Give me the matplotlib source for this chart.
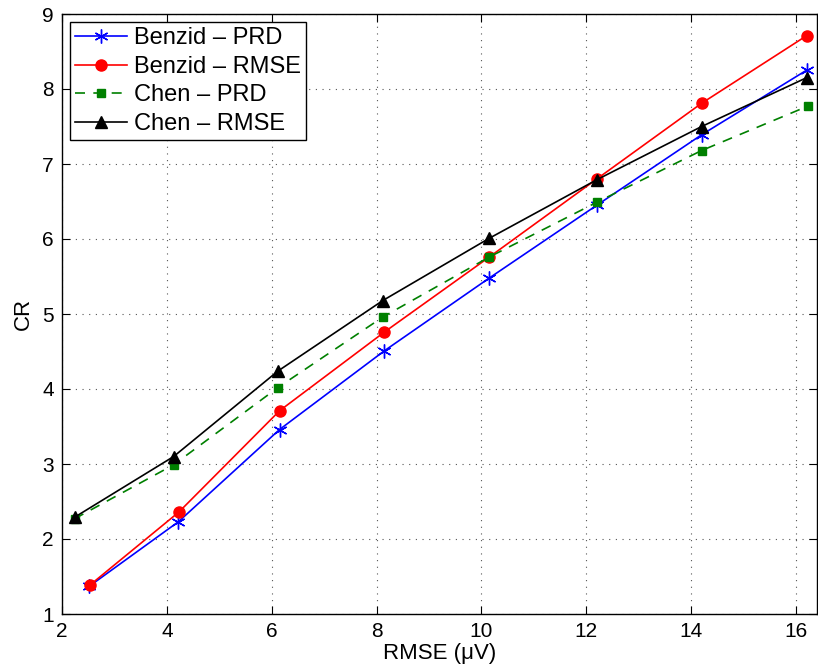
import matplotlib
matplotlib.use('Agg')
import matplotlib.pyplot as plt

plt.rcParams['font.family'] = ['Liberation Sans', 'DejaVu Sans']

# RMSE (uV) positions and CR values
bz_prd_x = [2.52, 4.22, 6.15, 8.15, 10.15, 12.2, 14.2, 16.2]
bz_prd_y = [1.37, 2.23, 3.46, 4.51, 5.48, 6.45, 7.39, 8.25]
bz_rmse_x = [2.54, 4.23, 6.15, 8.15, 10.15, 12.2, 14.2, 16.2]
bz_rmse_y = [1.39, 2.36, 3.71, 4.76, 5.76, 6.80, 7.81, 8.71]
ch_prd_x = [2.24, 4.13, 6.12, 8.12, 10.15, 12.2, 14.2, 16.22]
ch_prd_y = [2.27, 2.99, 4.02, 4.96, 5.76, 6.49, 7.18, 7.77]
ch_rmse_x = [2.24, 4.13, 6.12, 8.12, 10.15, 12.2, 14.2, 16.2]
ch_rmse_y = [2.29, 3.10, 4.24, 5.18, 6.01, 6.79, 7.50, 8.15]

fig = plt.figure(figsize=(8.18, 6.72), dpi=100, facecolor='white')
ax = fig.add_axes([62 / 818, 58 / 672, 755 / 818, 600 / 672])

ax.plot(bz_prd_x, bz_prd_y, color='blue', marker=(6, 2, 0), markersize=10,
        markeredgewidth=1.0, lw=1.2, label='Benzid – PRD')
ax.plot(bz_rmse_x, bz_rmse_y, color='red', marker='o', markersize=8, lw=1.2,
        label='Benzid – RMSE')
ax.plot(ch_prd_x, ch_prd_y, color='green', marker='s', markersize=6, lw=1.2,
        ls=(0, (6, 5)), label='Chen – PRD')
ax.plot(ch_rmse_x, ch_rmse_y, color='black', marker='^', markersize=8, lw=1.2,
        label='Chen – RMSE')

ax.set_xlim(2, 16.4)
ax.set_ylim(1, 9)
ax.set_xticks(range(2, 17, 2))
ax.set_yticks(range(1, 10))
ax.grid(True, color='#555555', linestyle=(0, (1, 5)), linewidth=0.8)
ax.tick_params(direction='in', top=True, right=True, labelsize=15, length=6, pad=6)
for s in ax.spines.values():
    s.set_linewidth(1.0)

ax.set_xlabel('RMSE (μV)', fontsize=16, labelpad=1)
ax.set_ylabel('CR', fontsize=16, labelpad=6)

leg = ax.legend(loc='upper left', fontsize=17, handlelength=2.2, borderpad=0.22,
                labelspacing=0.28, handletextpad=0.3, borderaxespad=0.34,
                fancybox=False, framealpha=1)
leg.get_frame().set_edgecolor('black')
leg.get_frame().set_linewidth(1.0)

fig.savefig('out.png', dpi=100)
